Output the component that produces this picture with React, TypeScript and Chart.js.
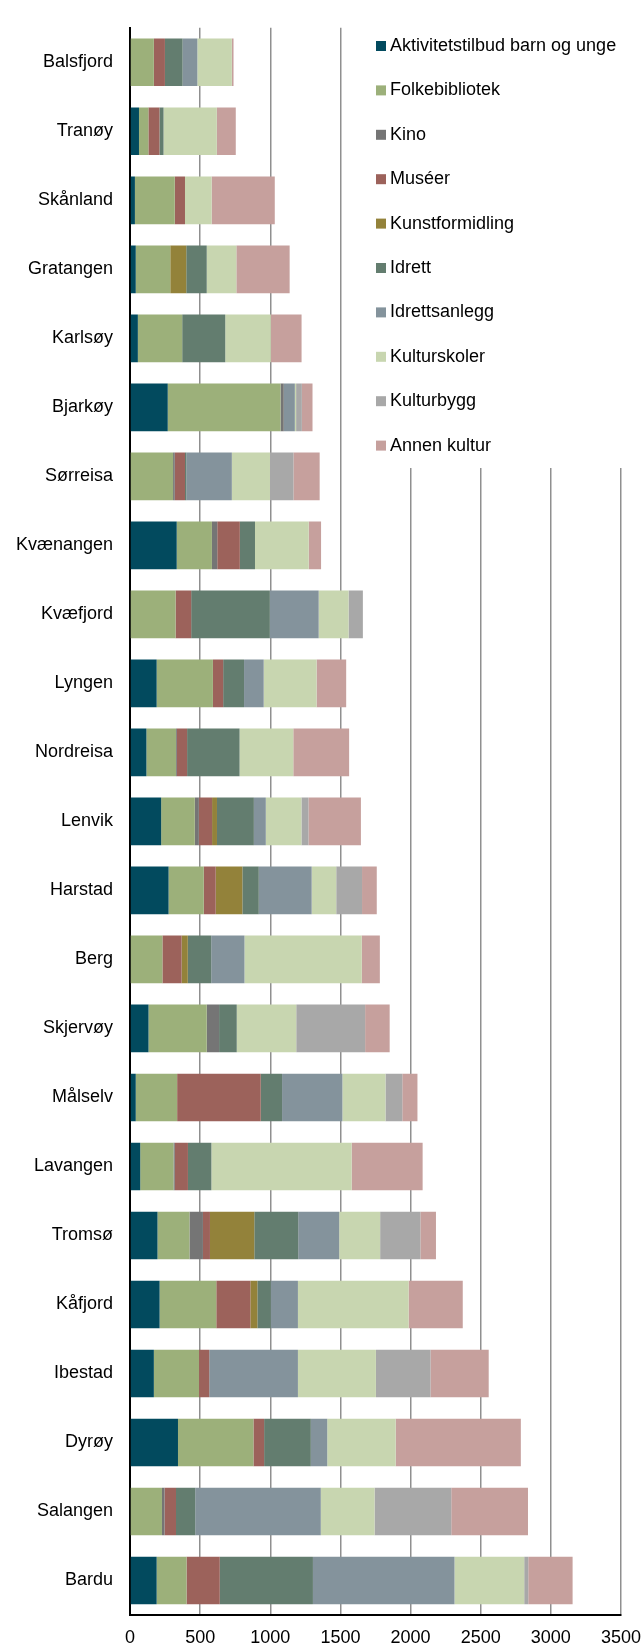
import React, { useEffect, useRef } from "react";
import { Chart, registerables } from "chart.js";

Chart.register(...registerables);

const categories = [
  "Balsfjord", "Tranøy", "Skånland", "Gratangen", "Karlsøy", "Bjarkøy", "Sørreisa", "Kvænangen",
  "Kvæfjord", "Lyngen", "Nordreisa", "Lenvik", "Harstad", "Berg", "Skjervøy", "Målselv",
  "Lavangen", "Tromsø", "Kåfjord", "Ibestad", "Dyrøy", "Salangen", "Bardu",
];

const aktivitetstilbud = [0, 64, 35, 41, 56, 269, 0, 333, 0, 190, 117, 222, 275, 0, 132, 41, 73, 196, 211, 170, 342, 0, 190];
const folkebibliotek = [170, 67, 284, 246, 316, 804, 307, 251, 325, 401, 211, 240, 251, 231, 415, 295, 237, 228, 404, 322, 538, 228, 213];
const kino = [0, 0, 0, 0, 0, 23, 12, 38, 0, 0, 6, 29, 0, 0, 88, 0, 9, 96, 0, 0, 0, 18, 0];
const museer = [79, 79, 73, 0, 0, 0, 73, 161, 111, 73, 73, 94, 85, 137, 0, 596, 94, 50, 243, 73, 76, 82, 237];
const kunstformidling = [0, 0, 0, 114, 0, 0, 0, 0, 0, 0, 0, 35, 190, 44, 0, 0, 0, 316, 50, 0, 0, 0, 0];
const idrett = [126, 29, 0, 146, 307, 0, 9, 108, 561, 149, 374, 263, 117, 167, 126, 152, 167, 313, 96, 0, 333, 137, 664];
const idrettsanlegg = [105, 0, 0, 0, 0, 79, 325, 0, 348, 140, 0, 85, 377, 237, 0, 430, 0, 292, 193, 632, 117, 895, 1009];
const kulturskoler = [246, 380, 190, 211, 325, 9, 272, 383, 213, 377, 383, 254, 175, 836, 424, 307, 1000, 292, 789, 556, 488, 383, 497];
const kulturbygg = [0, 0, 0, 0, 0, 41, 167, 0, 102, 0, 0, 50, 184, 0, 491, 120, 0, 287, 0, 389, 0, 547, 29];
const annenKultur = [12, 135, 450, 380, 219, 76, 187, 88, 0, 211, 398, 374, 105, 129, 175, 108, 506, 111, 386, 415, 892, 547, 316];

const xTicks = [0, 500, 1000, 1500, 2000, 2500, 3000, 3500];
const xTickLabels = ["0", "500", "1000", "1500", "2000", "2500", "3000", "3500"];

const seriesNames = [
  "Aktivitetstilbud barn og unge", "Folkebibliotek", "Kino", "Muséer", "Kunstformidling",
  "Idrett", "Idrettsanlegg", "Kulturskoler", "Kulturbygg", "Annen kultur",
];
const seriesData = [
  aktivitetstilbud, folkebibliotek, kino, museer, kunstformidling,
  idrett, idrettsanlegg, kulturskoler, kulturbygg, annenKultur,
];
const seriesColors = [
  "#024A5E", "#9CB07A", "#757575", "#9C625B", "#93823A",
  "#637D6F", "#84939C", "#C8D6B0", "#A8A8A8", "#C6A09D",
];

const FONT = "'Liberation Sans', Arial, sans-serif";

const legendPlugin = {
  id: "customLegend",
  afterDraw(chart: any) {
    const ctx = chart.ctx;
    ctx.save();
    ctx.fillStyle = "#ffffff";
    ctx.fillRect(345, 22, 298, 446);
    ctx.font = `18px ${FONT}`;
    ctx.textBaseline = "middle";
    ctx.textAlign = "left";
    chart.data.datasets.forEach((ds: any, i: number) => {
      const yc = 46 + i * 44.4;
      ctx.fillStyle = ds.backgroundColor;
      ctx.fillRect(376, yc - 5, 10, 10);
      ctx.fillStyle = "#000000";
      ctx.fillText(ds.label, 390, yc);
    });
    ctx.restore();
  },
};

export default function App() {
  const canvasRef = useRef<HTMLCanvasElement | null>(null);

  useEffect(() => {
    document.body.style.margin = "0";
    const canvas = canvasRef.current;
    if (!canvas) return;
    const chart = new Chart(canvas, {
      type: "bar",
      data: {
        labels: categories,
        datasets: seriesNames.map((name, i) => ({
          label: name,
          data: seriesData[i],
          backgroundColor: seriesColors[i],
          borderWidth: 0,
          barPercentage: 0.69,
          categoryPercentage: 1,
        })),
      },
      options: {
        indexAxis: "y",
        responsive: false,
        animation: false,
        devicePixelRatio: 1,
        layout: { padding: { left: 0, top: 13, right: 0, bottom: 0 } },
        plugins: {
          legend: { display: false },
          tooltip: { enabled: false },
          title: { display: false },
        },
        scales: {
          x: {
            stacked: true,
            min: 0,
            max: 3500,
            afterBuildTicks: (scale: any) => {
              scale.ticks = xTicks.map((v) => ({ value: v }));
            },
            afterFit: (scale: any) => {
              scale.height = 33;
              scale.paddingRight = 22;
              scale.paddingLeft = 0;
            },
            grid: {
              display: true,
              color: "#8f8f8f",
              lineWidth: 1.5,
              drawTicks: false,
            },
            border: { display: true, color: "#000000", width: 2 },
            ticks: {
              color: "#000000",
              font: { family: FONT, size: 18 },
              padding: 12,
              maxRotation: 0,
              autoSkip: false,
              callback: (_v: any, i: number) => xTickLabels[i],
            },
          },
          y: {
            stacked: true,
            afterFit: (scale: any) => {
              scale.width = 130;
            },
            grid: { display: false, drawTicks: false },
            border: { display: true, color: "#000000", width: 2 },
            ticks: {
              color: "#000000",
              font: { family: FONT, size: 18 },
              padding: 17,
              autoSkip: false,
            },
          },
        },
      },
      plugins: [legendPlugin],
    });
    return () => chart.destroy();
  }, []);

  return (
    <div style={{ position: "absolute", left: 0, top: 0, width: 643, height: 1648, background: "#ffffff" }}>
      <canvas ref={canvasRef} width={643} height={1648} style={{ display: "block", width: 643, height: 1648 }} />
    </div>
  );
}
